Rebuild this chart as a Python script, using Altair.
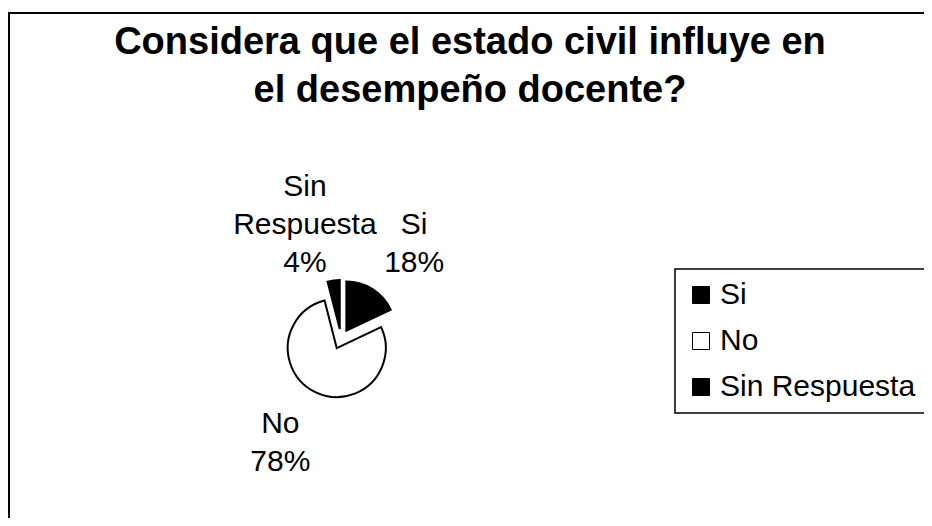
import altair as alt
import pandas as pd

# ---- data ----
categories = ["Si", "No", "Sin Respuesta"]
percentages = [18, 78, 4]
fill_colors = ["#000000", "#ffffff", "#000000"]
title_lines = ["Considera que el estado civil influye en", "el desempeño docente?"]

labels = [c.replace(" ", "\n") + "\n" + f"{p}%" for c, p in zip(categories, percentages)]
df = pd.DataFrame({
    "cat": categories,
    "pct": percentages,
    "order": list(range(len(categories))),
    "label": labels,
})

FONT = "Liberation Sans"
W, H = 916, 510
CX, CY = 333, 331      # pie centre (view coords)
R = 49                 # pie radius
EXPLODE = 10           # Excel exploded pie
LR = 120               # label distance
LH = 38                # label line height

base = (
    alt.Chart(df)
    .transform_window(cum="sum(pct)", sort=[alt.SortField("order")], frame=[None, 0])
    .transform_calculate(
        t0="(datum.cum - datum.pct) / 100 * 2 * PI",
        t1="datum.cum / 100 * 2 * PI",
        nl="length(split(datum.label, '\\n'))",
    )
    .transform_calculate(mid="(datum.t0 + datum.t1) / 2")
    .transform_calculate(
        px=f"{CX} + {EXPLODE} * sin(datum.mid)",
        py=f"{CY} - {EXPLODE} * cos(datum.mid)",
        la="datum.mid + (datum.pct < 10 ? -0.18 : 0.09)",
    )
    .transform_calculate(
        lx=f"{CX} + {LR} * sin(datum.la)",
        ly=f"{CY} - {LR} * cos(datum.la) - (datum.nl - 1) * {LH} / 2",
    )
)

arcs = base.mark_arc(radius=R, stroke="black", strokeWidth=2).encode(
    theta=alt.Theta("t0:Q", scale=None),
    theta2="t1:Q",
    x=alt.X("px:Q", scale=None),
    y=alt.Y("py:Q", scale=None),
    color=alt.Color(
        "cat:N",
        scale=alt.Scale(domain=categories, range=fill_colors),
        legend=alt.Legend(title=None, orient="none", legendX=667, legendY=261),
    ),
)

text = base.mark_text(
    font=FONT, fontSize=30, lineHeight=LH, lineBreak="\n",
    align="center", baseline="middle", color="black",
).encode(
    x=alt.X("lx:Q", scale=None),
    y=alt.Y("ly:Q", scale=None),
    text="label:N",
)

one = pd.DataFrame({"a": [0]})
border_top = alt.Chart(one).mark_rule(color="black", strokeWidth=2).encode(
    x=alt.value(0), x2=alt.value(W), y=alt.value(5)
)
border_left = alt.Chart(one).mark_rule(color="black", strokeWidth=2).encode(
    x=alt.value(1), y=alt.value(5), y2=alt.value(H)
)

chart = (
    alt.layer(border_top, border_left, arcs, text)
    .properties(
        width=W,
        height=H,
        padding=0,
        autosize=alt.AutoSizeParams(type="none"),
        title=alt.TitleParams(
            title_lines, font=FONT, fontSize=38, fontWeight="bold",
            lineHeight=48, anchor="middle", frame="group", offset=-102,
            color="black", dx=4,
        ),
    )
    .configure_view(stroke=None)
    .configure_legend(
        strokeColor="black", strokeWidth=1.5, fillColor="white", padding=11,
        symbolType="square", symbolSize=289, symbolStrokeColor="black",
        symbolStrokeWidth=1, labelFont=FONT, labelFontSize=30, labelColor="black",
        labelOffset=4, rowPadding=16, labelLimit=400,
    )
)

chart.save("out.html", embed_options={"renderer": "svg", "actions": False})
